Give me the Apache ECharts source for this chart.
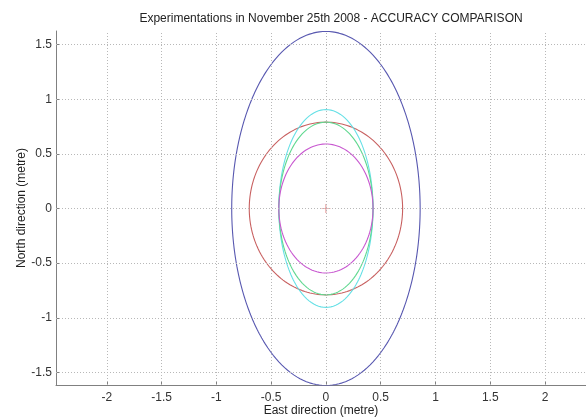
<!DOCTYPE html>
<html>
<head>
<meta charset="utf-8">
<script src="https://cdn.jsdelivr.net/npm/echarts@6/dist/echarts.min.js"></script>
<style>html,body{margin:0;padding:0;background:#fff;}#c{width:586px;height:418px;}</style>
</head>
<body>
<div id="c"></div>
<script>
// Ellipse parameters (semi-axes in metres), centred at the origin
const ellipseNames = ['blue', 'red', 'cyan', 'green', 'magenta'];
const semiEast  = [0.86, 0.70, 0.43, 0.43, 0.43];
const semiNorth = [1.62, 0.79, 0.905, 0.79, 0.59];
const ellipseColors = ['#5858b0', '#c86060', '#66e0e6', '#60d890', '#c858d0'];
const centerPoint = [[0, 0]];
const xTicks = [-2, -1.5, -1, -0.5, 0, 0.5, 1, 1.5, 2];
const yTicks = [-1.5, -1, -0.5, 0, 0.5, 1, 1.5];

const FONT = 'Liberation Sans, Arial, sans-serif';

function outline(a, b) {
  const pts = [];
  for (let i = 0; i <= 360; i++) {
    const t = i * Math.PI / 180;
    pts.push([a * Math.cos(t), b * Math.sin(t)]);
  }
  return pts;
}

const series = [];
series.push({
  type: 'line', data: [], silent: true,
  markLine: {
    silent: true, symbol: 'none', label: {show: false},
    lineStyle: {type: [1, 2], color: '#b8b8b8', width: 1},
    data: xTicks.map(v => ({xAxis: v})).concat(yTicks.map(v => ({yAxis: v})))
  }
});
ellipseNames.forEach((n, i) => {
  series.push({
    name: n, type: 'line', showSymbol: false, smooth: false,
    data: outline(semiEast[i], semiNorth[i]),
    lineStyle: {color: ellipseColors[i], width: 1.1},
    itemStyle: {color: ellipseColors[i]}
  });
});
series.push({
  type: 'scatter', data: centerPoint,
  symbol: 'path://M-0.08,-1H0.08V-0.08H1V0.08H0.08V1H-0.08V0.08H-1V-0.08H-0.08Z',
  symbolSize: 9, itemStyle: {color: '#d04848'}
});

const chart = echarts.init(document.getElementById('c'), null, {renderer: 'canvas'});
chart.setOption({
  animation: false,
  backgroundColor: '#fff',
  title: {
    text: 'Experimentations in November 25th 2008 - ACCURACY COMPARISON',
    left: 326, top: 8, textAlign: 'center',
    textStyle: {fontFamily: FONT, fontSize: 12, fontWeight: 'normal', color: '#222'}
  },
  grid: {left: 56, right: 0, top: 31, bottom: 33, outerBoundsMode: 'none', containLabel: false},
  xAxis: {
    type: 'value', min: -2.464, max: 2.374,
    name: 'East direction (metre)', nameLocation: 'middle', nameGap: 20, nameMoveOverlap: false,
    nameTextStyle: {fontFamily: FONT, fontSize: 12, color: '#222'},
    axisLine: {show: true, onZero: false, lineStyle: {color: '#808080'}},
    axisTick: {show: true, inside: true, length: 4, customValues: xTicks, lineStyle: {color: '#808080'}},
    axisLabel: {customValues: xTicks, fontFamily: FONT, fontSize: 12, color: '#333', margin: 7},
    splitLine: {show: false}
  },
  yAxis: {
    type: 'value', min: -1.615, max: 1.624,
    name: 'North direction (metre)', nameLocation: 'middle', nameGap: 28, nameRotate: 90, nameMoveOverlap: false,
    nameTextStyle: {fontFamily: FONT, fontSize: 12, color: '#222'},
    axisLine: {show: true, onZero: false, lineStyle: {color: '#808080'}},
    axisTick: {show: true, inside: true, length: 4, customValues: yTicks, lineStyle: {color: '#808080'}},
    axisLabel: {customValues: yTicks, fontFamily: FONT, fontSize: 12, color: '#333', margin: 4},
    splitLine: {show: false}
  },
  series: series
});
</script>
</body>
</html>
